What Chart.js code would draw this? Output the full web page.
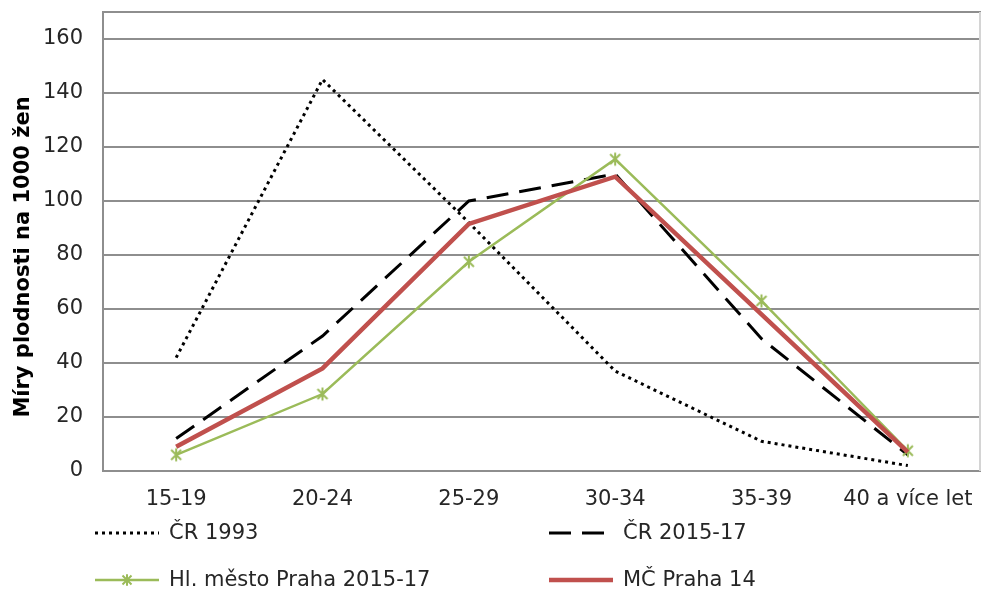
<!DOCTYPE html>
<html>
<head>
<meta charset="utf-8">
<script src="https://cdn.jsdelivr.net/npm/chart.js@4.4.0/dist/chart.umd.min.js"></script>
<style>
  html, body { margin: 0; padding: 0; background: #fff; }
</style>
</head>
<body>
<canvas id="chart" width="981" height="592"></canvas>
<script>
const ageGroups = ["15-19", "20-24", "25-29", "30-34", "35-39", "40 a více let"];
const cr1993 = [42, 145, 92, 37, 11, 2];
const cr2015 = [12, 50, 100, 110, 49, 6];
const praha2015 = [6, 28.5, 77.5, 115.5, 63, 7.5];
const mcPraha14 = [9, 38, 91.5, 109, 58, 7];
const yTicks = [0, 20, 40, 60, 80, 100, 120, 140, 160];
const yTitle = 'Míry plodnosti na 1000 žen';

const FONT = '"DejaVu Sans", Verdana, sans-serif';
const GRID = '#8e8e8e';
const GREEN = '#9bbb59';

function drawStar(ctx, x, y, r, color) {
  // excel-like x-star marker: diagonal cross plus a vertical bar
  ctx.save();
  ctx.setLineDash([]);
  ctx.strokeStyle = color;
  ctx.lineWidth = 2;
  ctx.beginPath();
  ctx.moveTo(x - r, y - r); ctx.lineTo(x + r, y + r);
  ctx.moveTo(x + r, y - r); ctx.lineTo(x - r, y + r);
  ctx.moveTo(x, y - r * 1.3); ctx.lineTo(x, y + r * 1.3);
  ctx.stroke();
  ctx.restore();
}

const starMarker = document.createElement('canvas');
starMarker.width = 16;
starMarker.height = 16;
drawStar(starMarker.getContext('2d'), 8, 8, 5, GREEN);

// top and right border of the plot area + rotated axis title
const framePlugin = {
  id: 'frame',
  beforeDatasetsDraw(chart) {
    const { ctx, chartArea: a } = chart;
    ctx.save();
    ctx.lineWidth = 2;
    ctx.strokeStyle = GRID;
    ctx.beginPath(); ctx.moveTo(a.left, a.top); ctx.lineTo(a.right, a.top); ctx.stroke();
    ctx.strokeStyle = '#d4d4d4';
    ctx.beginPath(); ctx.moveTo(a.right - 1, a.top); ctx.lineTo(a.right - 1, a.bottom); ctx.stroke();

    ctx.translate(24, 257);
    ctx.rotate(-Math.PI / 2);
    ctx.fillStyle = '#000';
    ctx.font = 'bold 21px ' + FONT;
    ctx.textAlign = 'center';
    ctx.textBaseline = 'middle';
    ctx.fillText(yTitle, 0, 0);
    ctx.restore();
  }
};

// two-column legend under the axis
const legendSlots = [[95, 533], [549, 533], [95, 580], [549, 580]];
const legendPlugin = {
  id: 'bottomLegend',
  afterDraw(chart) {
    const ctx = chart.ctx;
    chart.data.datasets.forEach((ds, i) => {
      const [x, y] = legendSlots[i];
      ctx.save();
      ctx.strokeStyle = ds.borderColor;
      ctx.lineWidth = ds.borderWidth;
      ctx.setLineDash(ds.borderDash || []);
      ctx.beginPath();
      ctx.moveTo(x, y);
      ctx.lineTo(x + 64, y);
      ctx.stroke();
      if (ds.pointStyle === starMarker) drawStar(ctx, x + 32, y, 4.5, GREEN);
      ctx.setLineDash([]);
      ctx.fillStyle = '#262626';
      ctx.font = '21px ' + FONT;
      ctx.textBaseline = 'middle';
      ctx.fillText(ds.label, x + 74, y + 1);
      ctx.restore();
    });
  }
};

new Chart(document.getElementById('chart'), {
  type: 'line',
  data: {
    labels: ageGroups,
    datasets: [
      {
        label: 'ČR 1993',
        data: cr1993,
        borderColor: '#000000',
        borderWidth: 3,
        borderDash: [3, 4],
        pointRadius: 0,
        order: 4
      },
      {
        label: 'ČR 2015-17',
        data: cr2015,
        borderColor: '#000000',
        borderWidth: 3,
        borderDash: [22, 11],
        pointRadius: 0,
        order: 3
      },
      {
        label: 'Hl. město Praha 2015-17',
        data: praha2015,
        borderColor: GREEN,
        borderWidth: 2.5,
        pointStyle: starMarker,
        pointRadius: 6,
        order: 2
      },
      {
        label: 'MČ Praha 14',
        data: mcPraha14,
        borderColor: '#c0504d',
        borderWidth: 4.5,
        pointRadius: 0,
        order: 1
      }
    ]
  },
  options: {
    responsive: false,
    animation: false,
    events: [],
    layout: { autoPadding: false, padding: { top: 12, right: 0, left: 0, bottom: 0 } },
    elements: { line: { tension: 0, borderCapStyle: 'butt' } },
    plugins: {
      legend: { display: false },
      tooltip: { enabled: false }
    },
    scales: {
      x: {
        offset: true,
        grid: { display: false, drawTicks: true, tickLength: 16 },
        border: { display: false },
        ticks: { color: '#262626', font: { family: FONT, size: 21 }, padding: 0, maxRotation: 0, autoSkip: false },
        afterFit: (scale) => { scale.height = 121; }
      },
      y: {
        min: 0,
        max: 170,
        afterBuildTicks: (scale) => { scale.ticks = yTicks.map(v => ({ value: v })); },
        grid: { color: GRID, lineWidth: 2, drawTicks: false },
        border: { display: true, color: GRID, width: 2 },
        ticks: { color: '#262626', font: { family: FONT, size: 21 }, padding: 20 },
        afterFit: (scale) => {
          scale.width = 103;
          scale.paddingTop = 0;
          scale.paddingBottom = 0;
        }
      }
    }
  },
  plugins: [framePlugin, legendPlugin]
});
</script>
</body>
</html>
